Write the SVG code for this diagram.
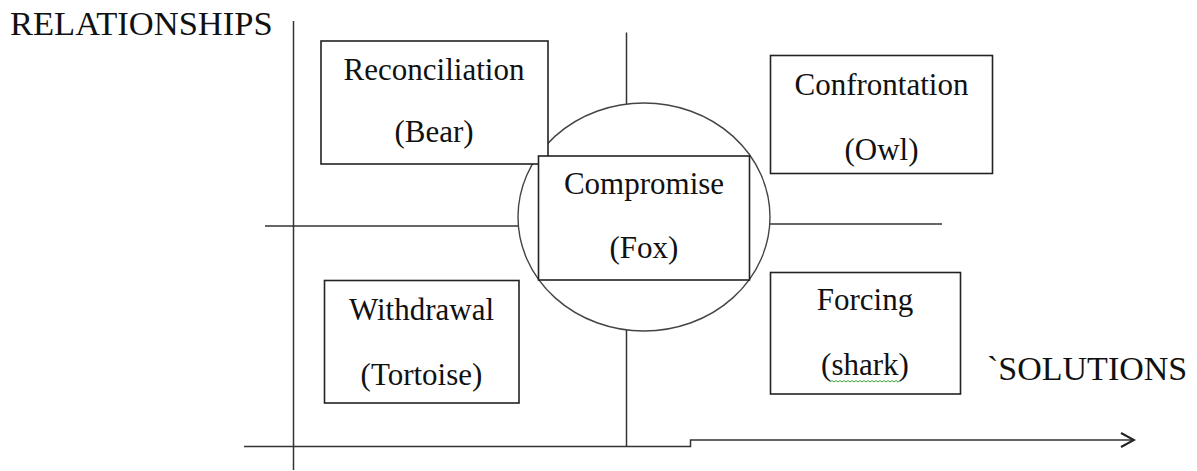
<svg xmlns="http://www.w3.org/2000/svg" width="1197" height="471" viewBox="0 0 1197 471">
<style>
.bx{fill:#fff;stroke:#222;stroke-width:1.6}
.ln{fill:none;stroke:#333;stroke-width:1.5}
.t{font-family:"Liberation Serif","Times New Roman",serif;font-size:31px;fill:#111;text-anchor:middle}
.ax{font-family:"Liberation Serif","Times New Roman",serif;font-size:34px;fill:#111}
</style>
<defs>
<marker id="arr" markerWidth="16" markerHeight="18" refX="14" refY="8" orient="auto" markerUnits="userSpaceOnUse">
<polyline points="1,1 14,8 1,15" fill="none" stroke="#222" stroke-width="2"/>
</marker>
</defs>
<rect width="1197" height="471" fill="#fff"/>
<g id="connectors">
<line class="ln" x1="293.5" y1="21" x2="293.5" y2="470"/>
<line class="ln" x1="265" y1="226" x2="518.5" y2="226"/>
<line class="ln" x1="770" y1="224" x2="942" y2="224"/>
<line class="ln" x1="626.5" y1="32.5" x2="626.5" y2="104"/>
<line class="ln" x1="626.5" y1="330" x2="626.5" y2="446.5"/>
<polyline class="ln" points="244,446.5 690.5,446.5 690.5,440 1134,440" marker-end="url(#arr)"/>
</g>
<g id="axis-labels">
<text class="ax" x="10" y="35" style="font-size:34.5px">RELATIONSHIPS</text>
<text class="ax" x="987" y="380">`SOLUTIONS</text>
</g>
<g id="circle">
<ellipse cx="644" cy="217" rx="126" ry="114" fill="none" stroke="#444" stroke-width="1.4"/>
</g>
<g id="reconciliation">
<rect class="bx" x="321" y="41" width="227" height="123"/>
<text class="t" x="434" y="80">Reconciliation</text>
<text class="t" x="434" y="142">(Bear)</text>
</g>
<g id="confrontation">
<rect class="bx" x="770.5" y="55.5" width="222" height="118"/>
<text class="t" x="881.5" y="95">Confrontation</text>
<text class="t" x="881.5" y="160">(Owl)</text>
</g>
<g id="compromise">
<rect class="bx" x="538.5" y="156" width="211" height="124"/>
<text class="t" x="644" y="194">Compromise</text>
<text class="t" x="644" y="258">(Fox)</text>
</g>
<g id="withdrawal">
<rect class="bx" x="324.5" y="280.5" width="194.5" height="122.5"/>
<text class="t" x="421.5" y="320">Withdrawal</text>
<text class="t" x="421.5" y="385">(Tortoise)</text>
</g>
<g id="forcing">
<rect class="bx" x="770.5" y="272.5" width="190" height="121.5"/>
<text class="t" x="865" y="310">Forcing</text>
<text class="t" x="865" y="375">(shark)</text>
<polyline points="830,382 832,380.5 834,382 836,380.5 838,382 840,380.5 842,382 844,380.5 846,382 848,380.5 850,382 852,380.5 854,382 856,380.5 858,382 860,380.5 862,382 864,380.5 866,382 868,380.5 870,382 872,380.5 874,382 876,380.5 878,382 880,380.5 882,382 884,380.5 886,382 888,380.5 890,382 892,380.5 894,382 896,380.5 898,382 900,380.5" fill="none" stroke="#3aa83a" stroke-width="1"/>
</g>
</svg>
